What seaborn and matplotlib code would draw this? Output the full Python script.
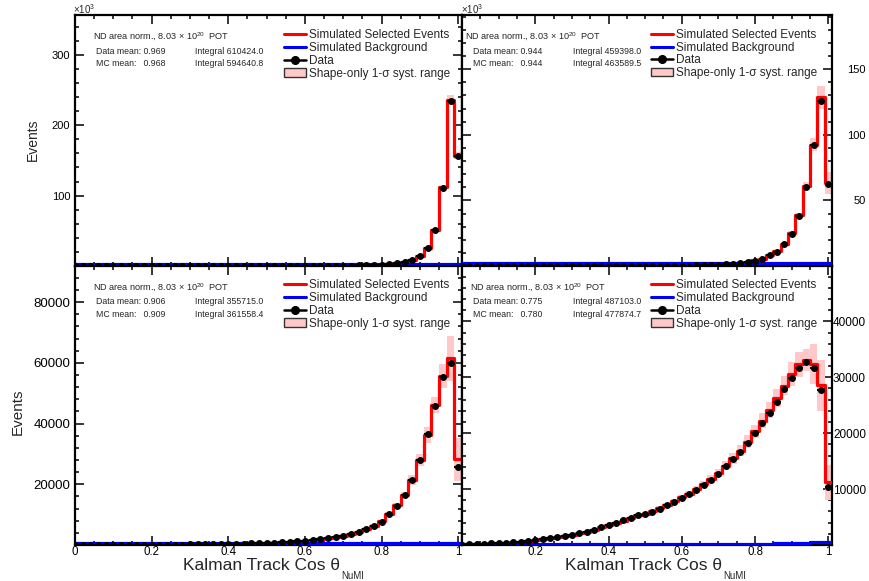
import numpy as np
import pandas as pd
import matplotlib
matplotlib.use("Agg")
import matplotlib.pyplot as plt
from matplotlib.lines import Line2D
from matplotlib.patches import Patch
from matplotlib.ticker import MultipleLocator, FuncFormatter
import seaborn as sns

# ---------------- data (51 bins of cos theta, centres 0.00 ... 1.00) ----------------
cos_theta = np.round(np.arange(0.0, 1.0001, 0.02), 2)
bin_edges = [float(v) for v in np.round(np.arange(-0.01, 1.0201, 0.02), 3)]

# top-left (x10^3)
tl_data = [0.01, 0.01, 0.01, 0.02, 0.02, 0.02, 0.02, 0.02, 0.03, 0.03, 0.03, 0.03, 0.03,
           0.04, 0.04, 0.04, 0.04, 0.05, 0.05, 0.05, 0.06, 0.06, 0.06, 0.07, 0.07, 0.08,
           0.09, 0.10, 0.12, 0.14, 0.17, 0.21, 0.25, 0.31, 0.38, 0.48, 0.60, 0.75, 0.95,
           1.2, 1.6, 2.2, 3.8, 5.3, 8.1, 13.7, 25.0, 50.5, 111.0, 234.0, 156.0]
tl_mc = [0.01, 0.01, 0.01, 0.02, 0.02, 0.02, 0.02, 0.02, 0.03, 0.03, 0.03, 0.03, 0.03,
         0.04, 0.04, 0.04, 0.04, 0.05, 0.05, 0.05, 0.06, 0.06, 0.06, 0.07, 0.07, 0.08,
         0.09, 0.10, 0.12, 0.14, 0.17, 0.21, 0.25, 0.31, 0.38, 0.48, 0.60, 0.75, 0.95,
         1.2, 1.6, 2.3, 3.7, 5.4, 8.0, 13.8, 25.3, 51.2, 112.0, 236.0, 157.0]
tl_bg = [2.3, 2.3, 2.3, 2.3, 2.3, 2.3, 2.3, 2.3, 2.3, 2.3, 2.3, 2.3, 2.3, 2.3, 2.3, 2.3,
         2.3, 2.3, 2.3, 2.3, 2.3, 2.3, 2.3, 2.3, 2.3, 2.3, 2.3, 2.3, 2.3, 2.3, 2.3, 2.3,
         2.3, 2.3, 2.3, 2.3, 2.3, 2.3, 2.3, 2.3, 2.3, 2.3, 2.3, 2.3, 2.3, 2.3, 2.3, 2.3,
         2.3, 2.3, 2.3]
tl_syst = [0.02, 0.02, 0.02, 0.02, 0.02, 0.02, 0.02, 0.02, 0.02, 0.02, 0.02, 0.02, 0.02,
           0.02, 0.02, 0.02, 0.02, 0.02, 0.02, 0.02, 0.02, 0.02, 0.02, 0.02, 0.02, 0.02,
           0.02, 0.02, 0.02, 0.02, 0.02, 0.02, 0.02, 0.02, 0.02, 0.02, 0.02, 0.02, 0.02,
           0.02, 0.02, 0.02, 0.02, 0.02, 0.02, 0.02, 0.02, 0.02, 0.02, 0.03, 0.03]

# top-right (x10^3)
tr_data = [0.01, 0.01, 0.01, 0.01, 0.02, 0.02, 0.02, 0.02, 0.02, 0.03, 0.03, 0.03, 0.03,
           0.03, 0.04, 0.04, 0.04, 0.05, 0.05, 0.05, 0.06, 0.06, 0.07, 0.07, 0.08,
           0.10, 0.12, 0.15, 0.18, 0.22, 0.28, 0.35, 0.44, 0.55, 0.70, 0.90, 1.15, 1.5,
           2.0, 2.8, 4.1, 5.6, 8.2, 11.0, 16.5, 24.7, 38.4, 59.9, 91.9, 126.0, 62.5]
tr_mc = [0.01, 0.01, 0.01, 0.01, 0.02, 0.02, 0.02, 0.02, 0.02, 0.03, 0.03, 0.03, 0.03,
         0.03, 0.04, 0.04, 0.04, 0.05, 0.05, 0.05, 0.06, 0.06, 0.07, 0.07, 0.08,
         0.10, 0.12, 0.15, 0.18, 0.22, 0.28, 0.35, 0.44, 0.55, 0.70, 0.90, 1.15, 1.5,
         2.0, 2.8, 4.2, 5.7, 8.3, 11.2, 16.8, 25.2, 38.8, 60.8, 92.6, 128.5, 63.2]
tr_bg = [2.0, 2.0, 2.0, 2.0, 2.0, 2.0, 2.0, 2.0, 2.0, 2.0, 2.0, 2.0, 2.0, 2.0, 2.0, 2.0,
         2.0, 2.0, 2.0, 2.0, 2.0, 2.0, 2.0, 2.0, 2.0, 2.0, 2.0, 2.0, 2.0, 2.0, 2.0, 2.0,
         2.0, 2.0, 2.0, 2.0, 2.0, 2.0, 2.0, 2.0, 2.0, 2.0, 2.0, 2.0, 2.0, 2.0, 2.0, 2.0,
         2.0, 2.0, 2.0]
tr_syst = [0.05, 0.05, 0.05, 0.05, 0.05, 0.05, 0.05, 0.05, 0.05, 0.05, 0.05, 0.05, 0.05,
           0.05, 0.05, 0.05, 0.05, 0.05, 0.05, 0.05, 0.05, 0.05, 0.05, 0.05, 0.05, 0.05,
           0.05, 0.05, 0.05, 0.05, 0.05, 0.05, 0.05, 0.05, 0.05, 0.05, 0.05, 0.05, 0.05,
           0.05, 0.05, 0.05, 0.05, 0.05, 0.05, 0.05, 0.05, 0.05, 0.05, 0.07, 0.13]

# bottom-left
bl_data = [30, 50, 55, 60, 65, 70, 75, 80, 85, 90, 100, 110, 125, 140, 160, 180, 200, 230,
           260, 300, 340, 390, 450, 510, 590, 680, 780, 900, 1040, 1200, 1380, 1600, 1850,
           2150, 2500, 2970, 3620, 4280, 5170, 6260, 7680, 10110, 12950, 16480, 21420,
           28000, 36470, 45800, 55260, 60070, 25600]
bl_mc = [30, 45, 50, 55, 60, 65, 70, 75, 80, 88, 98, 108, 122, 138, 158, 178, 200, 228,
         258, 298, 338, 388, 448, 510, 590, 680, 785, 905, 1050, 1210, 1400, 1620, 1870,
         2180, 2540, 3050, 3700, 4400, 5300, 6400, 7850, 10300, 13100, 16600, 21400,
         28000, 36250, 46100, 55700, 61500, 28300]
bl_bg = [600, 600, 600, 600, 600, 600, 600, 600, 600, 600, 600, 600, 600, 600, 600, 600,
         600, 600, 600, 600, 600, 600, 600, 600, 600, 600, 600, 600, 600, 600, 600, 600,
         600, 600, 600, 600, 600, 600, 600, 600, 600, 600, 600, 600, 600, 600, 600, 600,
         600, 600, 600]
bl_syst = [0.06, 0.06, 0.06, 0.06, 0.06, 0.06, 0.06, 0.06, 0.06, 0.06, 0.06, 0.06, 0.06,
           0.06, 0.06, 0.06, 0.06, 0.06, 0.06, 0.06, 0.06, 0.06, 0.06, 0.06, 0.06, 0.06,
           0.06, 0.06, 0.06, 0.06, 0.06, 0.06, 0.06, 0.06, 0.06, 0.06, 0.06, 0.06, 0.06,
           0.06, 0.06, 0.06, 0.06, 0.06, 0.07, 0.07, 0.07, 0.06, 0.07, 0.12, 0.25]

# bottom-right
br_data = [60, 120, 180, 250, 300, 360, 430, 490, 610, 720, 850, 1030, 1210, 1390, 1620,
           1870, 2110, 2410, 2770, 3190, 3610, 3970, 4390, 4810, 5290, 5620, 5980, 6520,
           7120, 7780, 8490, 9100, 9870, 10770, 11670, 12690, 14060, 15380, 16700, 18190,
           19990, 21780, 23580, 25550, 27950, 29920, 31660, 32730, 31720, 27650, 10290]
br_mc = [55, 115, 175, 240, 295, 355, 425, 490, 600, 715, 845, 1020, 1200, 1380, 1610,
         1860, 2100, 2400, 2760, 3180, 3600, 3960, 4380, 4800, 5280, 5600, 6000, 6550,
         7150, 7800, 8500, 9150, 9950, 10850, 11800, 12900, 14200, 15500, 16900, 18500,
         20300, 22200, 24100, 26300, 28500, 30600, 32300, 33100, 32440, 28540, 11190]
br_bg = [200, 200, 200, 200, 200, 200, 200, 200, 200, 200, 200, 200, 200, 200, 200, 200,
         200, 200, 200, 200, 200, 200, 200, 200, 200, 200, 200, 200, 200, 200, 200, 200,
         200, 200, 200, 200, 200, 200, 200, 200, 220, 240, 260, 280, 300, 330, 360, 400,
         450, 500, 520]
br_syst = [0.06, 0.06, 0.06, 0.06, 0.06, 0.06, 0.06, 0.06, 0.06, 0.06, 0.06, 0.06, 0.06,
           0.06, 0.06, 0.06, 0.06, 0.06, 0.06, 0.06, 0.06, 0.06, 0.06, 0.06, 0.06, 0.06,
           0.06, 0.06, 0.06, 0.06, 0.06, 0.06, 0.06, 0.06, 0.06, 0.06, 0.06, 0.06, 0.06,
           0.06, 0.06, 0.06, 0.06, 0.06, 0.06, 0.07, 0.07, 0.06, 0.11, 0.16, 0.28]

data_means = ["0.969", "0.944", "0.906", "0.775"]
mc_means = ["0.968", "0.944", "0.909", "0.780"]
data_integrals = ["610424.0", "459398.0", "355715.0", "487103.0"]
mc_integrals = ["594640.8", "463589.5", "361558.4", "477874.7"]
legend_labels = ["Simulated Selected Events", "Simulated Background", "Data",
                 "Shape-only 1-\u03c3 syst. range"]
x_title = "Kalman Track Cos \u03b8"
x_title_sub = "NuMI"
y_title = "Events"

# ---------------- style ----------------
sns.set_theme(style="ticks")
plt.rcParams.update({
    "font.family": ["Liberation Sans", "DejaVu Sans"],
    "mathtext.fontset": "custom",
    "mathtext.rm": "Liberation Sans",
    "mathtext.it": "Liberation Sans:italic",
    "mathtext.bf": "Liberation Sans:bold",
    "axes.linewidth": 1.6,
    "axes.edgecolor": "black",
    "axes.facecolor": "white",
    "figure.facecolor": "white",
})

W, H = 869, 581
RED, BLUE, BAND = "#ff0000", "#0000ff", "#ffc9c9"
fig = plt.figure(figsize=(W / 100, H / 100), dpi=100)


def px_axes(x0, y0, x1, y1):
    return fig.add_axes([x0 / W, 1 - y1 / H, (x1 - x0) / W, (y1 - y0) / H])


panels = [
    dict(data=tl_data, mc=tl_mc, bg=tl_bg, syst=tl_syst, box=(75, 15, 462, 266),
         ylim=356.7, ymaj=100, ymin=20, right=False, bottom=False, ysize=8.0,
         leg=(284, 29.5), nd=(93, 37.3), dm=(96, 51.7), integ=195, mm=63.3),
    dict(data=tr_data, mc=tr_mc, bg=tr_bg, syst=tr_syst, box=(462, 15, 832, 266),
         ylim=191.3, ymaj=50, ymin=10, right=True, bottom=False, ysize=8.0,
         leg=(651, 29.0), nd=(465, 36.7), dm=(473, 51.7), integ=573, mm=63.3),
    dict(data=bl_data, mc=bl_mc, bg=bl_bg, syst=bl_syst, box=(75, 266, 462, 545),
         ylim=91900, ymaj=20000, ymin=4000, right=False, bottom=True, ysize=9.5,
         leg=(284, 279.5), nd=(93, 288.3), dm=(96, 301.7), integ=195, mm=314.3),
    dict(data=br_data, mc=br_mc, bg=br_bg, syst=br_syst, box=(462, 266, 832, 545),
         ylim=49900, ymaj=10000, ymin=2000, right=True, bottom=True, ysize=8.5,
         leg=(651, 279.5), nd=(470, 288.3), dm=(473, 301.7), integ=573, mm=314.3),
]

handles = [Line2D([], [], color=RED, lw=2.2),
           Line2D([], [], color=BLUE, lw=2.2),
           Line2D([], [], color="black", lw=1.8, marker="o", ms=5.5),
           Patch(facecolor=BAND, edgecolor="#333333", lw=1.0)]

for i, p in enumerate(panels):
    ax = px_axes(*p["box"])
    df = pd.DataFrame({"cos": cos_theta, "mc": p["mc"], "bg": p["bg"],
                       "data": p["data"], "syst": p["syst"]})
    lo = df["mc"] * (1 - df["syst"])
    hi = df["mc"] * (1 + df["syst"])
    ax.bar(df["cos"], hi - lo, bottom=lo, width=0.02, color=BAND, linewidth=0, zorder=1)
    sns.histplot(data=df, x="cos", weights="mc", bins=bin_edges, element="step",
                 fill=False, color=RED, linewidth=2.3, ax=ax, zorder=3)
    sns.histplot(data=df, x="cos", weights="bg", bins=bin_edges, element="step",
                 fill=False, color=BLUE, linewidth=2.3, ax=ax, zorder=4)
    ax.errorbar(df["cos"], df["data"], xerr=0.01, fmt="o", color="black", ms=4.0,
                elinewidth=1.5, capsize=0, zorder=5)
    ax.set_xlim(0, 1.01)
    ax.set_ylim(0, p["ylim"])
    ax.set_xlabel("")
    ax.set_ylabel("")
    ax.grid(False)
    for s in ax.spines.values():
        s.set_visible(True)
        s.set_linewidth(1.6)

    ax.xaxis.set_major_locator(MultipleLocator(0.2))
    ax.xaxis.set_minor_locator(MultipleLocator(0.05))
    ax.yaxis.set_major_locator(MultipleLocator(p["ymaj"]))
    ax.yaxis.set_minor_locator(MultipleLocator(p["ymin"]))
    ax.tick_params(which="both", direction="in", top=True, bottom=True, left=True,
                   right=True, width=1.1, colors="black")
    ax.tick_params(which="major", length=6.5)
    ax.tick_params(which="minor", length=3.2)

    ax.yaxis.set_major_formatter(FuncFormatter(lambda v, pos: "" if abs(v) < 1e-9 else f"{v:g}"))
    if p["bottom"]:
        if p["right"]:
            ax.xaxis.set_major_formatter(FuncFormatter(
                lambda v, pos: "" if abs(v) < 1e-9 else f"{v:g}"))
        else:
            ax.xaxis.set_major_formatter(FuncFormatter(lambda v, pos: f"{v:g}"))
        ax.tick_params(axis="x", labelbottom=True, labelsize=8.3, pad=0.8)
    else:
        ax.tick_params(axis="x", labelbottom=False)

    if p["right"]:
        ax.tick_params(axis="y", labelleft=False, labelright=True,
                       labelsize=p["ysize"], pad=24.5)
        for t in ax.yaxis.get_major_ticks():
            t.label2.set_horizontalalignment("right")
    else:
        ax.tick_params(axis="y", labelleft=True, labelright=False,
                       labelsize=p["ysize"], pad=3.5)

    hx, hy = p["leg"]
    ax.legend(handles, legend_labels, loc="upper left", bbox_to_anchor=(hx / W, 1 - hy / H),
              bbox_transform=fig.transFigure, frameon=False, fontsize=8.5,
              handlelength=1.9, handletextpad=0.25, labelspacing=0.06, borderpad=0,
              borderaxespad=0)

    nx, ny = p["nd"]
    fig.text(nx / W, 1 - ny / H, "ND area norm., 8.03 \u00d7 10$^{20}$  POT",
             fontsize=6.6, ha="left", va="center")
    dx, dy = p["dm"]
    fig.text(dx / W, 1 - dy / H, f"Data mean: {data_means[i]}", fontsize=6.3,
             ha="left", va="center")
    fig.text(p["integ"] / W, 1 - dy / H, f"Integral {data_integrals[i]}", fontsize=6.3,
             ha="left", va="center")
    fig.text(dx / W, 1 - p["mm"] / H, f"MC mean:   {mc_means[i]}", fontsize=6.3,
             ha="left", va="center")
    fig.text(p["integ"] / W, 1 - p["mm"] / H, f"Integral {mc_integrals[i]}", fontsize=6.3,
             ha="left", va="center")

# x10^3 multipliers for the top panels
for xpx in (73, 461):
    fig.text(xpx / W, 1 - 9 / H, "\u00d710$^{3}$", fontsize=7, ha="left", va="center")

# axis titles
fig.text(33 / W, 1 - 140 / H, y_title, rotation=90, fontsize=10, ha="center", va="center")
fig.text(18 / W, 1 - 412 / H, y_title, rotation=90, fontsize=11, ha="center", va="center")
for right_edge in (340, 722):
    fig.text(right_edge / W, 1 - 565 / H, x_title, fontsize=12.5, ha="right", va="center")
    fig.text((right_edge + 1) / W, 1 - 576 / H, x_title_sub, fontsize=7, ha="left",
             va="center")

fig.savefig("out.png", dpi=100)
